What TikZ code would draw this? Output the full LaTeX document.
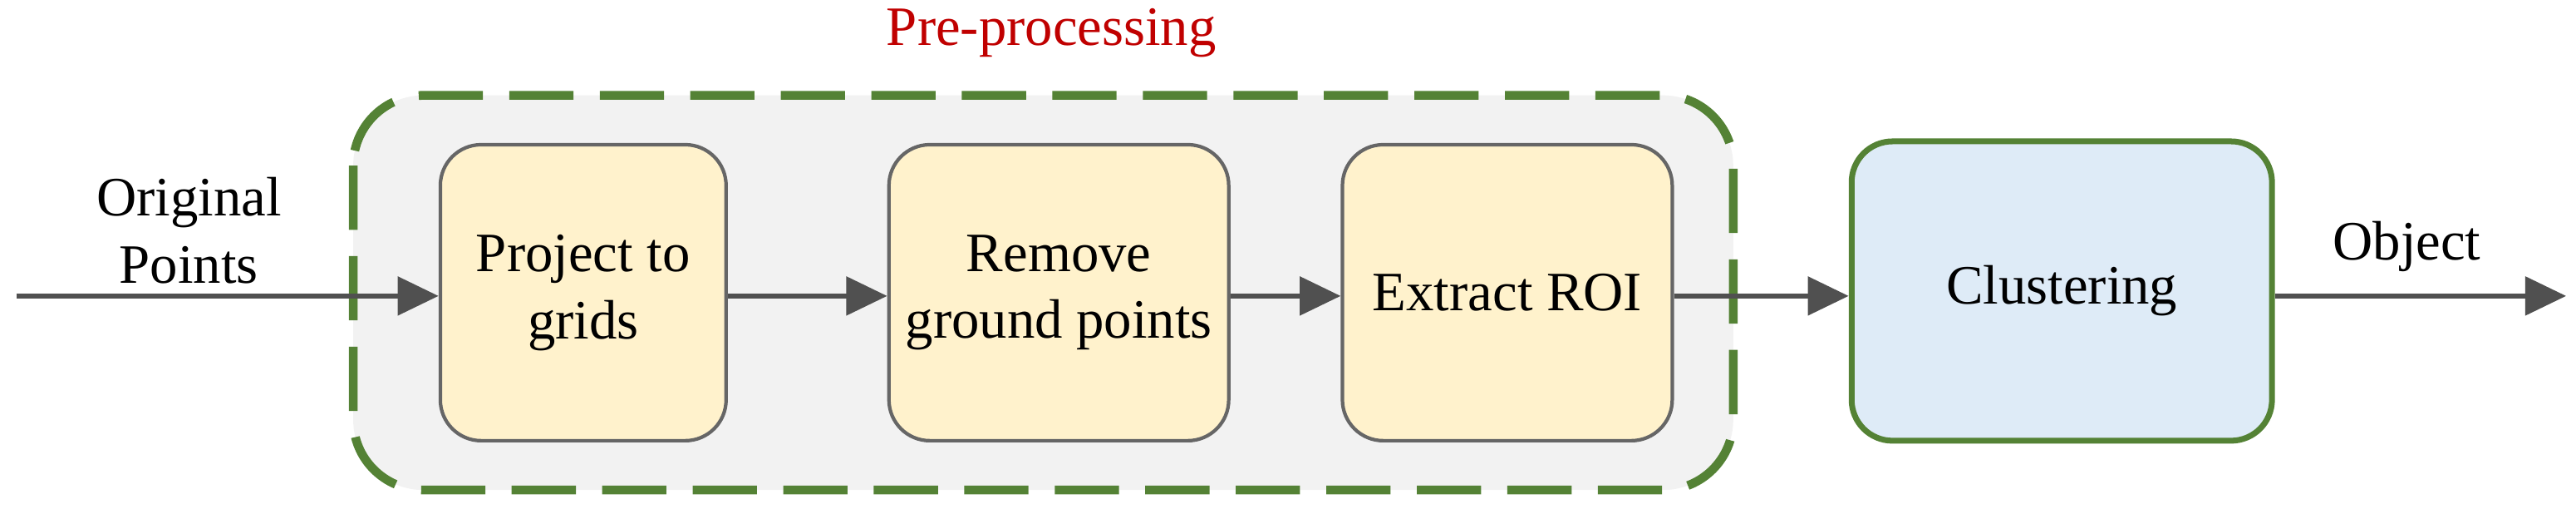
\documentclass[tikz,border=0pt]{standalone}
\usepackage{fontspec}
\setmainfont{Liberation Serif}
\usetikzlibrary{arrows.meta}
\definecolor{gfill}{RGB}{242,242,242}
\definecolor{ygreen}{RGB}{84,130,53}
\definecolor{yfill}{RGB}{255,242,204}
\definecolor{bfill}{RGB}{222,235,247}
\definecolor{ared}{RGB}{192,0,0}
\definecolor{agray}{RGB}{80,80,80}
\begin{document}
\begin{tikzpicture}[x=0.01977cm,y=-0.01977cm,
  box/.style={draw=gray!80!black,line width=1.2pt,fill=yfill,rounded corners=14pt,align=center,
    font=\rmfamily\fontsize{19}{23}\selectfont,inner sep=0pt,minimum height=3.56cm},
  arr/.style={draw=agray,line width=1.8pt,-{Triangle[length=14pt,width=13pt]}},
  lbl/.style={font=\rmfamily\fontsize{19}{23}\selectfont,align=center}]
\useasboundingbox (0,0) rectangle (1568,309.5);
\draw[fill=gfill,draw=ygreen,line width=3pt,dash pattern=on 22pt off 9pt,rounded corners=24pt] (215,58) rectangle (1055,298);
\node[box,minimum width=3.44cm] (p) at (355,178) {Project to\\grids};
\node[box,minimum width=4.09cm] (r) at (644.5,178) {Remove\\ground points};
\node[box,minimum width=3.97cm] (e) at (917.5,178) {Extract ROI};
\node[box,fill=bfill,draw=ygreen,line width=2pt,minimum width=5.06cm,minimum height=3.6cm] (c) at (1255,177) {Clustering};
\coordinate (s) at (10,180);
\coordinate (t) at (1562,180);
\draw[arr] (s) -- (s -| p.west);
\draw[arr] (p.east |- s) -- (r.west |- s);
\draw[arr] (r.east |- s) -- (e.west |- s);
\draw[arr] (e.east |- s) -- (c.west |- s);
\draw[arr] (c.east |- s) -- (t);
\node[lbl] (o) at (115,140) {Original\\Points};
\node[lbl,text=ared] (pp) at (640,20) {Pre-processing};
\node[lbl] (ob) at (1465,150) {Object};
\end{tikzpicture}
\end{document}
